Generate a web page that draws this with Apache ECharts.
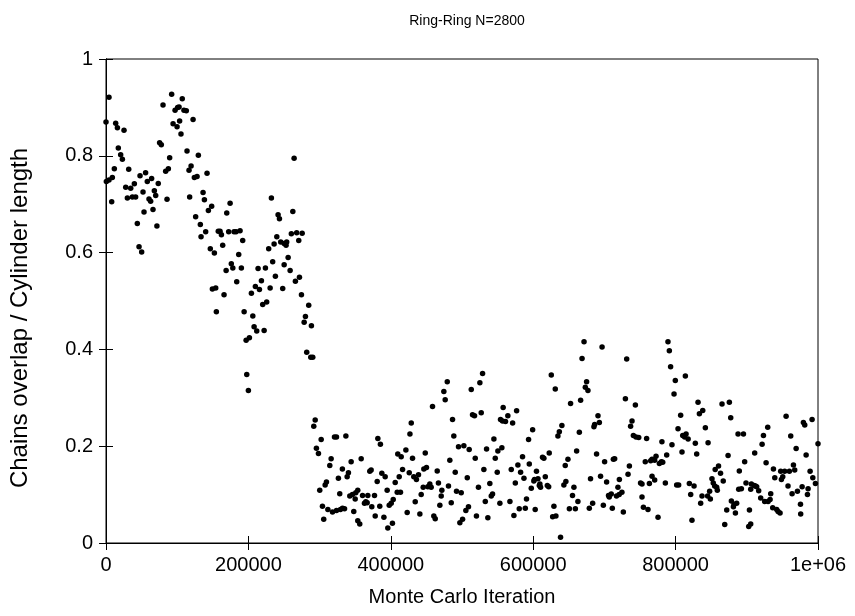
<!DOCTYPE html>
<html>
<head>
<meta charset="utf-8">
<script src="https://cdn.jsdelivr.net/npm/echarts@6/dist/echarts.min.js"></script>
<style>html,body{margin:0;padding:0;background:#fff}#c{width:855px;height:616px}</style>
</head>
<body>
<div id="c"></div>
<script>
const titleText = "Ring-Ring N=2800";
const xName = "Monte Carlo Iteration";
const yName = "Chains overlap / Cylinder length";
const xTicks = [0, 200000, 400000, 600000, 800000, 1000000];
const yTicks = [0, 0.2, 0.4, 0.6, 0.8, 1];

const iterations = [
4200,0,13600,16000,25300,17300,20600,23000,11700,31900,8900,4200,500,8000,27700,34700,30000,37000,41600,39800,
47800,55600,52000,58000,64100,60400,62700,67900,69800,73400,53400,66000,44000,71500,46400,50100,75300,77700,80100,92200,
107100,97000,100600,102600,109500,112800,103400,94200,99800,105300,122300,113800,129700,89400,83800,87600,116600,119500,85700,117500,
124100,127900,141900,136300,138200,148400,143800,125900,132500,140000,133500,146500,152200,157700,149400,154100,155000,
264200,174300,169600,232300,241700,243600,262400,160200,162100,172300,179900,182700,188300,192000,163900,186400,176000,178100,168700,190100,
165800,183600,239900,228500,236100,245400,250200,253800,252900,260300,267800,275500,270700,213600,223900,234100,255800,250200,258600,237900,
218300,271700,266000,209800,215500,230500,248200,204200,274500,225700,220100,284700,194000,206200,280100,278300,288500,208000,211700,222100,
196800,201400,281900,287600,290400,197700,200000,
293800,291800,302200,320900,323700,336900,381800,385400,295500,298400,316200,314300,344300,358400,332000,340500,338700,326400,370500,372400,
387400,392100,380900,409800,414600,411800,416500,406200,309600,307800,300200,328300,353600,350800,346100,342400,360300,367700,377100,394900,
409000,413600,350000,364900,363000,366800,373300,384500,403400,400600,397800,304000,311600,318100,323700,329300,332200,335000,348000,378100,
390300,305800,353600,356400,402300,395800,
421200,528900,525100,479300,474500,476400,513000,458600,514800,517600,527000,557800,554100,556900,428700,426900,486700,488500,544800,495100,
502600,510100,534500,550400,556000,430500,448400,482900,518600,546700,425900,432300,436000,438900,446400,450100,465200,490500,507400,530700,
549500,445500,442700,454800,456700,452000,466900,471700,470800,481000,492300,498900,523100,539100,542900,541100,434300,468900,484900,532700,
553200,509100,505400,423000,440800,460400,462400,500800,497000,520300,536300,
671400,696700,668600,625400,631000,675000,673200,676900,666600,652500,576700,564400,561100,571100,599200,593500,640300,636700,634700,691000,
692900,686300,685300,664800,585000,622500,613100,615000,661000,648800,645000,689000,578500,594500,569200,582300,587000,604600,601800,600900,
617000,606700,574900,609400,610300,608600,597300,619800,621700,643100,645900,657200,680500,694600,700300,655200,662800,590600,567300,580400,
588900,572900,602800,629100,627300,631900,650800,659200,678800,683500,698500,638400,
731300,789300,791200,793000,799600,813700,797800,729500,743500,831500,833400,838100,807100,738800,736800,803400,740700,744400,748200,759300,
810000,814700,817600,812800,780800,794900,827700,829600,809000,787500,772500,766900,770600,765000,780000,781900,777200,757400,714400,712600,
735100,733200,703100,721000,766900,770600,750800,752800,763200,785600,801500,804300,819300,825900,719000,724600,720800,717000,709600,705800,
706800,752800,821200,837100,835200,711100,726600,754800,761200,775300,823000,
865200,875500,877400,841800,845600,887700,895300,929400,923400,921500,955200,961700,979500,981400,991700,969300,873700,911100,983300,897000,
927100,855600,860300,863100,866900,851100,852900,854900,858600,857700,889500,937400,947600,953200,959800,967300,965500,950500,948600,939300,
988900,992700,996400,898900,906400,910200,912100,913900,916700,905500,888600,892400,957900,963600,971100,977700,986100,985200,845000,848800,
847800,919500,925100,929900,932700,933600,878300,882100,885800,881200,884000,936400,942000,946700,943900,975400,903700,871800,975700,869000,
905500,902700,1000000
];

const overlap = [
.921,.870,.867,.858,.853,.816,.802,.793,.773,.772,.755,.750,.747,.705,.735,.733,.713,.715,.715,.742,
.759,.765,.725,.747,.753,.711,.706,.728,.718,.743,.684,.689,.660,.655,.612,.601,.827,.823,.905,.927,
.918,.894,.900,.901,.894,.893,.872,.866,.860,.845,.875,.810,.801,.796,.768,.773,.770,.779,.710,.715,
.755,.757,.764,.724,.709,.696,.687,.674,.658,.643,.633,.608,.599,.644,.525,.527,.478,
.795,.702,.682,.713,.678,.670,.685,.644,.637,.643,.643,.643,.645,.625,.615,.596,.577,.568,.563,.568,
.513,.540,.633,.608,.618,.622,.619,.622,.615,.639,.641,.640,.625,.567,.568,.581,.590,.575,.563,.551,
.542,.549,.541,.530,.524,.527,.526,.516,.513,.498,.493,.491,.478,.469,.468,.456,.449,.447,.438,.439,
.419,.424,.394,.384,.384,.348,.315,
.254,.241,.214,.219,.219,.221,.216,.204,.196,.185,.174,.160,.168,.174,.153,.145,.137,.134,.148,.151,
.144,.137,.127,.184,.178,.137,.152,.125,.126,.120,.109,.102,.109,.104,.100,.097,.098,.098,.098,.109,
.105,.105,.091,.085,.082,.083,.075,.076,.090,.082,.078,.076,.069,.064,.067,.069,.072,.071,.065,.056,
.053,.049,.046,.039,.041,.031,
.192,.350,.331,.333,.313,.296,.317,.282,.265,.263,.269,.280,.255,.252,.248,.225,.255,.221,.215,.199,
.201,.193,.194,.190,.197,.175,.186,.171,.175,.175,.145,.137,.131,.141,.153,.156,.149,.146,.135,.152,
.146,.115,.100,.122,.115,.116,.124,.109,.097,.118,.107,.104,.115,.123,.101,.097,.085,.078,.083,.086,
.082,.075,.067,.063,.060,.056,.050,.049,.042,.056,.052,
.416,.405,.381,.347,.318,.333,.322,.315,.295,.288,.273,.263,.251,.248,.234,.214,.243,.230,.221,.263,
.249,.245,.240,.229,.178,.186,.177,.175,.190,.173,.160,.184,.161,.163,.152,.146,.134,.148,.131,.128,
.137,.133,.124,.122,.115,.119,.113,.119,.116,.120,.127,.115,.133,.138,.168,.098,.086,.091,.086,.071,
.072,.057,.069,.076,.054,.056,.071,.071,.072,.082,.078,.012,
.380,.416,.397,.364,.336,.345,.308,.298,.285,.291,.267,.274,.264,.252,.241,.236,.222,.219,.218,.216,
.222,.225,.215,.219,.209,.203,.206,.184,.188,.182,.179,.173,.171,.170,.168,.167,.164,.168,.174,.173,
.159,.142,.126,.131,.138,.130,.124,.122,.123,.124,.120,.120,.123,.118,.115,.105,.100,.097,.101,.098,
.095,.095,.100,.097,.082,.072,.064,.074,.069,.053,.047,
.287,.291,.259,.238,.207,.225,.225,.239,.222,.204,.262,.221,.249,.244,.255,.195,.181,.186,.182,.168,
.166,.152,.159,.144,.128,.133,.124,.118,.109,.115,.149,.153,.148,.148,.148,.151,.161,.137,.131,.135,
.148,.135,.123,.124,.122,.119,.118,.116,.108,.111,.111,.112,.118,.102,.107,.116,.112,.100,.097,.091,
.107,.093,.086,.086,.090,.102,.087,.080,.082,.075,.062,.073,.069,.062,.065,.080,.068,.068,.060,.038,
.039,.034,.205
];

const points = iterations.map((x, i) => [x, overlap[i]]);
const FONT = "Liberation Sans, Arial, Helvetica, sans-serif";

const chart = echarts.init(document.getElementById('c'), null, {renderer: 'canvas'});
const axisLine = {show: true, lineStyle: {color: '#000', width: 1}};
const tick = {show: true, inside: true, length: 7, lineStyle: {color: '#000', width: 1}};
chart.setOption({
  animation: false,
  backgroundColor: '#fff',
  title: {
    text: titleText, left: 462, top: 9, textAlign: 'center',
    textStyle: {fontFamily: FONT, fontSize: 14, fontWeight: 'normal', color: '#000'}
  },
  graphic: [{
    type: 'text', x: 20, y: 318, rotation: Math.PI / 2,
    style: {text: yName, fontFamily: FONT, fontSize: 24, fill: '#000',
      textAlign: 'center', textVerticalAlign: 'middle'}
  }],
  grid: {left: 106, right: 37, top: 59, bottom: 73, show: true, borderColor: '#000', borderWidth: 1},
  xAxis: [{
    type: 'value', min: xTicks[0], max: xTicks[xTicks.length - 1], interval: xTicks[1] - xTicks[0],
    position: 'bottom',
    name: xName, nameLocation: 'middle', nameGap: 44,
    nameTextStyle: {fontFamily: FONT, fontSize: 20, color: '#000'},
    axisLine: axisLine, axisTick: tick, splitLine: {show: false},
    axisLabel: {fontFamily: FONT, fontSize: 20, color: '#000', margin: 12,
      formatter: v => v === 1000000 ? '1e+06' : String(v)}
  }, {
    type: 'value', min: xTicks[0], max: xTicks[xTicks.length - 1], interval: xTicks[1] - xTicks[0],
    position: 'top', axisLine: axisLine, axisTick: tick, axisLabel: {show: false}, splitLine: {show: false}
  }],
  yAxis: [{
    type: 'value', min: yTicks[0], max: yTicks[yTicks.length - 1], interval: 0.2,
    position: 'left',
    axisLine: axisLine, axisTick: tick, splitLine: {show: false},
    axisLabel: {fontFamily: FONT, fontSize: 20, color: '#000', margin: 13,
      formatter: v => String(Math.round(v * 10) / 10)}
  }, {
    type: 'value', min: yTicks[0], max: yTicks[yTicks.length - 1], interval: 0.2,
    position: 'right', axisLine: axisLine, axisTick: tick, axisLabel: {show: false}, splitLine: {show: false}
  }],
  series: [{
    type: 'scatter', xAxisIndex: 0, yAxisIndex: 0,
    data: points, symbol: 'circle', symbolSize: 5.5,
    itemStyle: {color: '#000', opacity: 1}
  }]
});
</script>
</body>
</html>
